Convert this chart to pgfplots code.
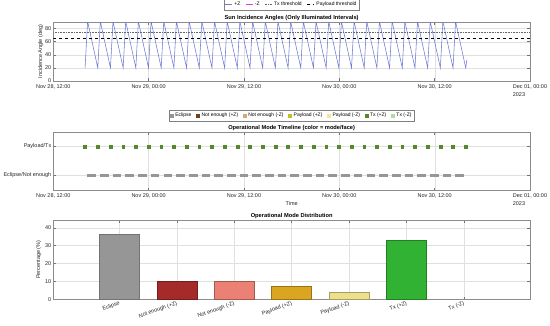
\documentclass[border=0pt]{standalone}
\usepackage{fontspec}
\setmainfont{Liberation Sans}
\usepackage{pgfplots}
\pgfplotsset{compat=1.18}
\definecolor{zblue}{RGB}{108,122,212}
\definecolor{zmag}{RGB}{230,60,200}
\definecolor{cEcl}{RGB}{150,150,150}
\definecolor{cNEp}{RGB}{120,62,20}
\definecolor{cNEm}{RGB}{214,168,124}
\definecolor{cPLp}{RGB}{196,190,40}
\definecolor{cPLm}{RGB}{238,232,160}
\definecolor{cTXp}{RGB}{84,138,44}
\definecolor{cTXm}{RGB}{182,216,160}
\definecolor{bNEp}{RGB}{165,42,42}
\definecolor{bNEm}{RGB}{235,128,116}
\definecolor{bPLp}{RGB}{218,165,32}
\definecolor{bPLm}{RGB}{236,224,140}
\definecolor{bTXp}{RGB}{50,178,50}
\begin{document}
\fontsize{5.5}{6.5}\selectfont
\begin{tikzpicture}
\useasboundingbox (0pt,0pt) rectangle (550pt,325pt);
\pgfplotsset{
  base/.style={
    scale only axis, width=476.7pt, anchor=south west,
    axis line style={black!45, line width=0.4pt},
    tick style={black!55, line width=0.4pt},
    major tick length=2.5pt, tick align=inside,
    grid=major, grid style={black!12, line width=0.3pt},
    tick label style={font=\fontsize{5.5}{6.5}\selectfont, text=black!85},
    label style={font=\fontsize{5.5}{6.5}\selectfont, text=black!85},
    /pgf/number format/assume math mode=true,
    title style={font=\bfseries\fontsize{5.7}{6.5}\selectfont, at={(0.5,1)}, anchor=south, yshift=-6.5pt},
    legend style={font=\fontsize{5}{6}\selectfont, draw=black!50, line width=0.4pt,
      inner sep=1pt, row sep=0pt, at={(0.5,1)}, anchor=south, yshift=11pt},
    legend cell align=left,
  },
  timeax/.style={
    xmin=0, xmax=60, xtick={0,12,24,36,48,60},
    xticklabels={{Nov 28, 12:00},{Nov 29, 00:00},{Nov 29, 12:00},{Nov 30, 00:00},{Nov 30, 12:00},{\shortstack[l]{Dec 01, 00:00\\2023}}},
    xticklabel style={anchor=north, yshift=-2pt},
  },
}
% ---------- top ----------
\begin{axis}[base, timeax, at={(53.3pt,244pt)}, height=59pt, ymin=0, ymax=90,
  ytick={0,20,40,60,80}, ylabel={Incidence Angle (deg)},
  ylabel style={yshift=-2pt},
  title={Sun Incidence Angles (Only Illuminated Intervals)},
  legend columns=4,
  legend style={/tikz/every even column/.append style={column sep=3pt}, yshift=1pt},
  legend image code/.code={\draw[#1] (0pt,0pt) -- (7pt,0pt);},
  unbounded coords=jump]
\addplot[zblue, line width=0.55pt] coordinates {
(4.00,20) (4.32,91) (5.597,20) (5.917,91) (7.194,20) (7.514,91) (8.791,20) (9.111,91)
(10.388,20) (10.708,91) (11.985,20) (12.305,91) (13.582,20) (13.902,91) (15.179,20) (15.499,91)
(16.776,20) (17.096,91) (18.373,20) (18.693,91) (19.97,20) (20.29,91) (21.567,20) (21.887,91)
(23.164,20) (23.484,91) (24.761,20) (25.081,91) (26.358,20) (26.678,91) (27.955,20) (28.275,91)
(29.552,20) (29.872,91) (31.149,20) (31.469,91) (32.746,20) (33.066,91) (34.343,20) (34.663,91)
(35.94,20) (36.26,91) (37.537,20) (37.857,91) (39.134,20) (39.454,91) (40.731,20) (41.051,91)
(42.328,20) (42.648,91) (43.925,20) (44.245,91) (45.522,20) (45.842,91) (47.119,20) (47.439,91)
(48.716,20) (49.036,91) (50.313,20) (50.633,91) (51.91,20) (52.05,32)
};
\addlegendentry{+Z}
\addlegendimage{zmag, line width=0.55pt}
\addlegendentry{-Z}
\addplot[black!60, densely dotted, line width=0.6pt] coordinates {(0,75) (60,75)};
\addlegendentry{Tx threshold}
\addplot[black, dashed, line width=0.8pt] coordinates {(0,65) (60,65)};
\addlegendentry{Payload threshold}
\end{axis}
% ---------- middle ----------
\begin{axis}[base, timeax, at={(53.3pt,135pt)}, height=58pt, ymin=0.5, ymax=2.5,
  ytick={1,2}, yticklabels={Eclipse/Not enough, Payload/Tx},
  xlabel={Time}, xlabel style={at={(axis description cs:0.5,0)}, anchor=center, yshift=-14pt},
  title={Operational Mode Timeline (color = mode/face)},
  legend columns=7,
  legend style={/tikz/every even column/.append style={column sep=2.5pt}},
  legend image code/.code={\fill[#1] (0pt,-1.6pt) rectangle (3.2pt,1.6pt);},
  unbounded coords=jump]
\addlegendimage{cEcl}\addlegendentry{Eclipse}
\addlegendimage{cNEp}\addlegendentry{Not enough (+Z)}
\addlegendimage{cNEm}\addlegendentry{Not enough (-Z)}
\addlegendimage{cPLp}\addlegendentry{Payload (+Z)}
\addlegendimage{cPLm}\addlegendentry{Payload (-Z)}
\addlegendimage{cTXp}\addlegendentry{Tx (+Z)}
\addlegendimage{cTXm}\addlegendentry{Tx (-Z)}
\addplot[cEcl, line width=2.8pt, forget plot] coordinates {
(4.29,1) (5.38,1) (5,nan) (5.887,1) (6.977,1) (6,nan) (7.484,1) (8.574,1) (8,nan)
(9.081,1) (10.171,1) (10,nan) (10.678,1) (11.768,1) (11,nan) (12.275,1) (13.365,1) (13,nan)
(13.872,1) (14.962,1) (14,nan) (15.469,1) (16.559,1) (16,nan) (17.066,1) (18.156,1) (18,nan)
(18.663,1) (19.753,1) (19,nan) (20.26,1) (21.35,1) (21,nan) (21.857,1) (22.947,1) (22,nan)
(23.454,1) (24.544,1) (24,nan) (25.051,1) (26.141,1) (26,nan) (26.648,1) (27.738,1) (27,nan)
(28.245,1) (29.335,1) (29,nan) (29.842,1) (30.932,1) (30,nan) (31.439,1) (32.529,1) (32,nan)
(33.036,1) (34.126,1) (34,nan) (34.633,1) (35.723,1) (35,nan) (36.23,1) (37.32,1) (37,nan)
(37.827,1) (38.917,1) (38,nan) (39.424,1) (40.514,1) (40,nan) (41.021,1) (42.111,1) (42,nan)
(42.618,1) (43.708,1) (43,nan) (44.215,1) (45.305,1) (45,nan) (45.812,1) (46.902,1) (46,nan)
(47.409,1) (48.499,1) (48,nan) (49.006,1) (50.096,1) (50,nan) (50.603,1) (51.693,1)
};
\addplot[only marks, mark=square*, mark size=1.4pt, mark options={cTXp, draw=cTXp}, forget plot] coordinates {
(4.00,2) (5.597,2) (7.194,2) (8.791,2) (10.388,2) (11.985,2) (13.582,2) (15.179,2)
(16.776,2) (18.373,2) (19.97,2) (21.567,2) (23.164,2) (24.761,2) (26.358,2) (27.955,2)
(29.552,2) (31.149,2) (32.746,2) (34.343,2) (35.94,2) (37.537,2) (39.134,2) (40.731,2)
(42.328,2) (43.925,2) (45.522,2) (47.119,2) (48.716,2) (50.313,2) (51.91,2)
};
\end{axis}
% ---------- bottom ----------
\begin{axis}[base, at={(53.3pt,25.7pt)}, height=79.3pt, xmin=-0.15, xmax=8.15, ymin=0, ymax=44.3,
  xtick={1,2,3,4,5,6,7},
  xticklabels={Eclipse, Not enough (+Z), Not enough (-Z), Payload (+Z), Payload (-Z), Tx (+Z), Tx (-Z)},
  xticklabel style={rotate=20, anchor=north east, inner sep=1pt},
  ytick={0,10,20,30,40}, ylabel={Percentage (\%)},
  title={Operational Mode Distribution}]
\addplot[ybar, bar width=40pt, bar shift=0pt, fill=cEcl, draw=black!55] coordinates {(1,36.5)};
\addplot[ybar, bar width=40pt, bar shift=0pt, fill=bNEp, draw=bNEp!70!black] coordinates {(2,10.1)};
\addplot[ybar, bar width=40pt, bar shift=0pt, fill=bNEm, draw=bNEm!70!black] coordinates {(3,10.1)};
\addplot[ybar, bar width=40pt, bar shift=0pt, fill=bPLp, draw=bPLp!70!black] coordinates {(4,7.4)};
\addplot[ybar, bar width=40pt, bar shift=0pt, fill=bPLm, draw=bPLm!70!black] coordinates {(5,3.7)};
\addplot[ybar, bar width=40pt, bar shift=0pt, fill=bTXp, draw=bTXp!70!black] coordinates {(6,33.1)};
\end{axis}
\end{tikzpicture}
\end{document}
